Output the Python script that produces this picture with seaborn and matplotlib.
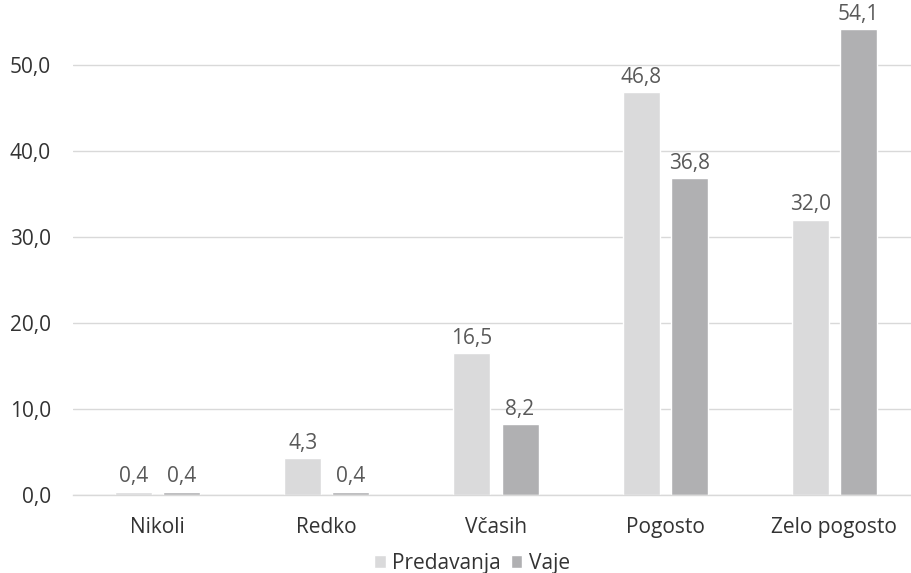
import matplotlib
matplotlib.use("Agg")
import matplotlib.pyplot as plt
import seaborn as sns
import pandas as pd

# data
categories = ["Nikoli", "Redko", "Včasih", "Pogosto", "Zelo pogosto"]
predavanja = [0.4, 4.3, 16.5, 46.8, 32.0]
vaje = [0.4, 0.4, 8.2, 36.8, 54.1]
series = ["Predavanja", "Vaje"]
colors = ["#dadadb", "#b0b0b2"]

df = pd.DataFrame({
    "kategorija": categories * 2,
    "vrednost": predavanja + vaje,
    "serija": [series[0]] * len(categories) + [series[1]] * len(categories),
})

sns.set_theme(style="white")
plt.rcParams["font.family"] = ["Open Sans", "DejaVu Sans"]

fs = 15
fig = plt.figure(figsize=(9.12, 5.73), dpi=100)
ax = fig.add_axes([73 / 912, 1 - 495 / 573, 846 / 912, 495 / 573])

sns.barplot(data=df, x="kategorija", y="vrednost", hue="serija",
            palette=colors, width=0.568, gap=0.23, ax=ax,
            saturation=1, legend=True)

ax.set_ylim(0, 57.5)
ax.set_yticks([0, 10, 20, 30, 40, 50])
ax.set_yticklabels([f"{v:.1f}".replace(".", ",") for v in [0, 10, 20, 30, 40, 50]])
ax.yaxis.grid(True, color="#d9d9d9", linewidth=1)
ax.set_axisbelow(True)
for s in ["top", "right", "left"]:
    ax.spines[s].set_visible(False)
ax.spines["bottom"].set_color("#d9d9d9")
ax.spines["bottom"].set_linewidth(1)
ax.set_xlabel("")
ax.set_ylabel("")
ax.tick_params(axis="y", length=0, pad=16, labelsize=fs, labelcolor="#333333")
ax.tick_params(axis="x", length=0, pad=16, labelsize=fs, labelcolor="#333333")

for cont in ax.containers:
    ax.bar_label(cont, labels=[f"{b.get_height():.1f}".replace(".", ",") for b in cont],
                 padding=3, fontsize=fs, color="#595959")

ax.legend(loc="lower center", bbox_to_anchor=(399 / 846, -0.18), ncol=2,
          frameon=False, fontsize=fs, handlelength=0.55, handleheight=0.55,
          handletextpad=0.3, columnspacing=0.5, labelcolor="#333333",
          borderpad=0)

fig.savefig("out.png", dpi=100)
